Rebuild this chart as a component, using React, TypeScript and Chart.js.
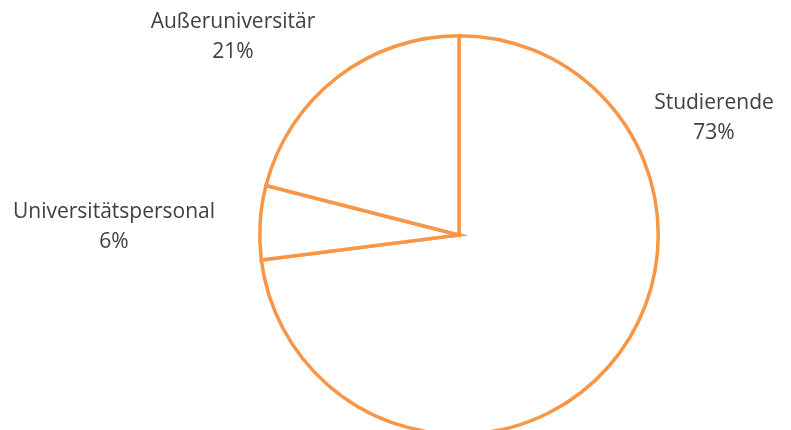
import React, { useEffect, useRef } from "react";
import { Chart, registerables } from "chart.js";

Chart.register(...registerables);

const categories = ["Studierende", "Universitätspersonal", "Außeruniversitär"];
const values = [73, 6, 21];
const valueLabels = ["73%", "6%", "21%"];
// label anchor (center of text block) positions, px in canvas space
const labelAnchors = [
  { x: 714, y: 118 },
  { x: 114, y: 227 },
  { x: 233, y: 37 },
];

const ORANGE = "#F79646";

const labelPlugin = {
  id: "outsideLabels",
  afterDraw(chart: any) {
    const ctx = chart.ctx;
    ctx.save();
    ctx.font = "21px 'Open Sans', 'Noto Sans', sans-serif";
    ctx.fillStyle = "#404040";
    ctx.textAlign = "center";
    ctx.textBaseline = "middle";
    categories.forEach((c, i) => {
      const a = labelAnchors[i];
      ctx.fillText(c, a.x, a.y - 15);
      ctx.fillText(valueLabels[i], a.x, a.y + 15);
    });
    ctx.restore();
  },
};

export default function App() {
  const ref = useRef<HTMLCanvasElement>(null);
  useEffect(() => {
    if (!ref.current) return;
    const chart = new Chart(ref.current, {
      type: "pie",
      data: {
        labels: categories,
        datasets: [
          {
            data: values,
            backgroundColor: "#ffffff",
            borderColor: ORANGE,
            borderWidth: 3.5,
            borderJoinStyle: "miter",
          } as any,
        ],
      },
      options: {
        responsive: false,
        animation: false,
        layout: { padding: { left: 258, top: 34, right: 131, bottom: 34 } },
        plugins: { legend: { display: false }, tooltip: { enabled: false } },
      },
      plugins: [labelPlugin],
    });
    return () => chart.destroy();
  }, []);
  return (
    <div style={{ position: "fixed", left: 0, top: 0, width: 791, height: 430, overflow: "hidden", background: "#fff" }}>
      <canvas ref={ref} width={791} height={470} style={{ display: "block", width: 791, height: 470 }} />
    </div>
  );
}
